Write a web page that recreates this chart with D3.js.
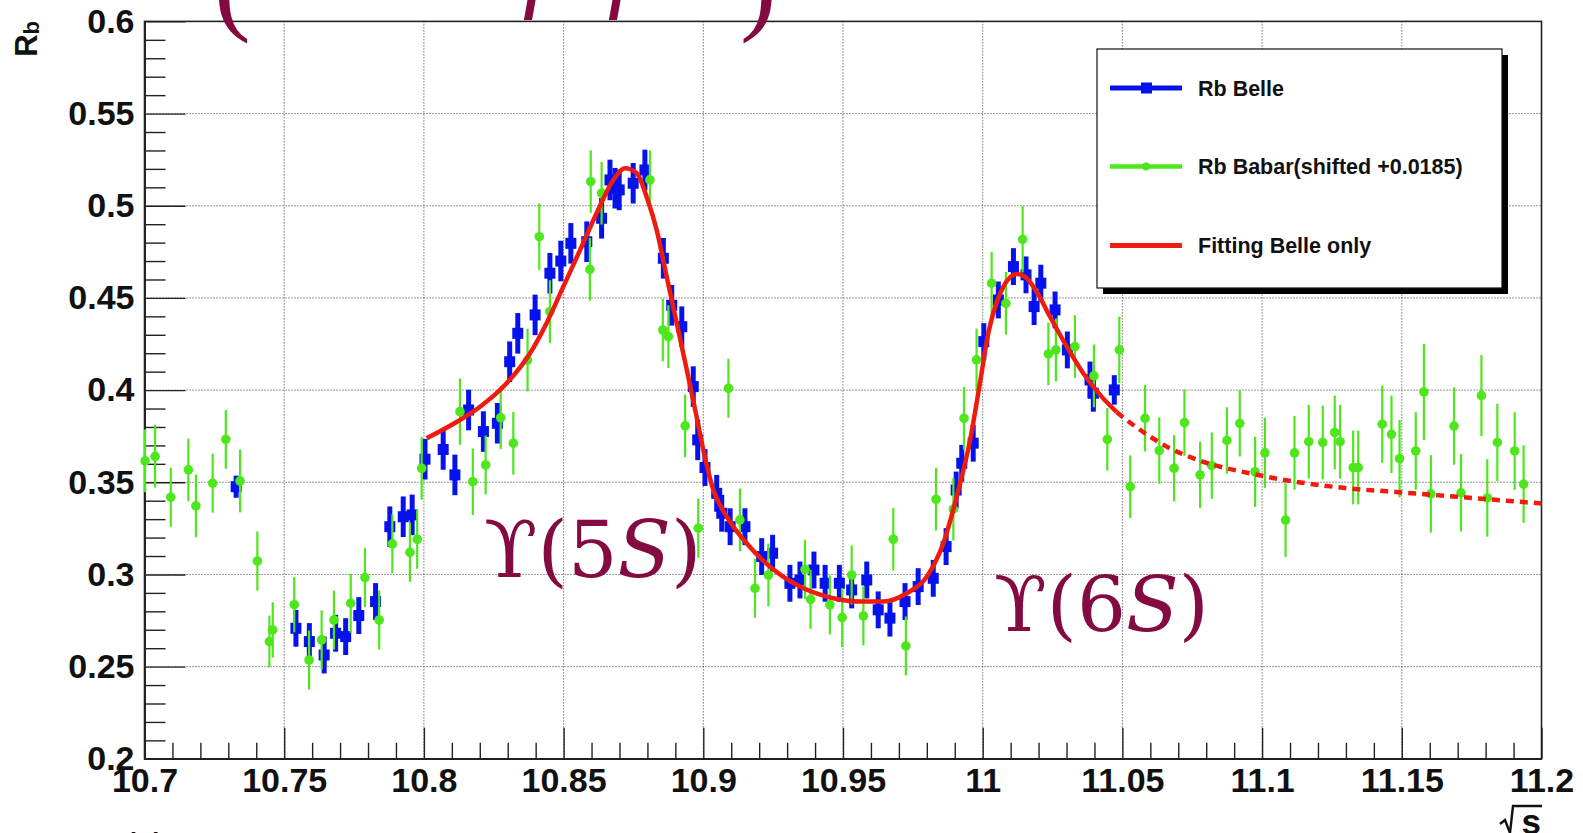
<!DOCTYPE html>
<html>
<head>
<meta charset="utf-8">
<script src="https://cdn.jsdelivr.net/npm/d3@7"></script>
<style>
  html, body { margin: 0; padding: 0; background: #fff; }
  svg { display: block; }
</style>
</head>
<body>
<svg id="chart" width="1583" height="833"></svg>
<script>
// ---- data -------------------------------------------------------------
// Belle R_b scan (sqrt(s) in GeV)
const belleE = [10.7328, 10.7542, 10.7590, 10.7643, 10.7684, 10.7720, 10.7767, 10.7827,
  10.7878, 10.7926, 10.7958, 10.8004, 10.8069, 10.8111, 10.8160, 10.8213, 10.8263,
  10.8307, 10.8336, 10.8398, 10.8451, 10.8490, 10.8526, 10.8583, 10.8636, 10.8666,
  10.8684, 10.8699, 10.8749, 10.8791, 10.8857, 10.8887, 10.8923, 10.8964, 10.8980,
  10.9006, 10.9048, 10.9066, 10.9096, 10.9149, 10.9209, 10.9248, 10.9310, 10.9346,
  10.9396, 10.9436, 10.9487, 10.9531, 10.9585, 10.9626, 10.9668, 10.9722, 10.9769,
  10.9823, 10.9869, 10.9905, 10.9925, 10.9966, 11.0004, 11.0056, 11.0110, 11.0155,
  11.0184, 11.0208, 11.0259, 11.0303, 11.0384, 11.0396, 11.0471];
const belleR = [0.3476, 0.2708, 0.2636, 0.2563, 0.2681, 0.2663, 0.2777, 0.2853,
  0.3259, 0.3313, 0.3323, 0.3625, 0.3678, 0.3540, 0.3892, 0.3775, 0.3820,
  0.4154, 0.4308, 0.4408, 0.4634, 0.4700, 0.4796, 0.4805, 0.4932, 0.5140,
  0.5095, 0.5086, 0.5122, 0.5194, 0.4715, 0.4460, 0.4344, 0.4019, 0.3730,
  0.3580, 0.3440, 0.3332, 0.3259, 0.3259, 0.3097, 0.3115, 0.2952, 0.2970,
  0.3024, 0.2952, 0.2952, 0.2916, 0.2970, 0.2808, 0.2763, 0.2853, 0.2934,
  0.2979, 0.3151, 0.3458, 0.3603, 0.3712, 0.4263, 0.4489, 0.4670, 0.4625,
  0.4453, 0.4580, 0.4435, 0.4218, 0.4055, 0.3983, 0.4001];
const belleErr = [0.006, 0.010, 0.010, 0.010, 0.010, 0.010, 0.010, 0.010,
  0.011, 0.011, 0.011, 0.011, 0.011, 0.011, 0.011, 0.011, 0.011,
  0.011, 0.011, 0.011, 0.011, 0.011, 0.011, 0.011, 0.011, 0.011,
  0.011, 0.011, 0.011, 0.011, 0.011, 0.011, 0.011, 0.011, 0.011,
  0.010, 0.010, 0.010, 0.010, 0.010, 0.010, 0.010, 0.010, 0.010,
  0.010, 0.010, 0.010, 0.010, 0.010, 0.010, 0.010, 0.010, 0.010,
  0.010, 0.010, 0.010, 0.010, 0.010, 0.010, 0.010, 0.010, 0.010,
  0.010, 0.010, 0.010, 0.010, 0.010, 0.010, 0.008];

// BaBar R_b scan, shifted by +0.0185
const babarE = [10.7002, 10.7038, 10.7094, 10.7157, 10.7184, 10.7244, 10.7291, 10.7342,
  10.7404, 10.7447, 10.7459, 10.7536, 10.7589, 10.7634, 10.7678, 10.7738, 10.7789,
  10.7840, 10.7887, 10.7950, 10.7976, 10.7992, 10.8129, 10.8175, 10.8221, 10.8275,
  10.8320, 10.8371, 10.8413, 10.8451, 10.8594, 10.8597, 10.8636, 10.8809, 10.8855,
  10.8875, 10.8935, 10.8982, 10.9090, 10.9131, 10.9185, 10.9233, 10.9364, 10.9384,
  10.9453, 10.9497, 10.9531, 10.9573, 10.9680, 10.9725, 10.9833, 10.9895, 10.9933,
  10.9978, 11.0032, 11.0083, 11.0143, 11.0235, 11.0262, 11.0330, 11.0398, 11.0446,
  11.0489, 11.0528, 11.0581, 11.0632, 11.0685, 11.0722, 11.0778, 11.0820, 11.0874,
  11.0920, 11.0975, 11.1010, 11.1084, 11.1116, 11.1167, 11.1217, 11.1260, 11.1279,
  11.1326, 11.1344, 11.1430, 11.1463, 11.1492, 11.1550, 11.1579, 11.1604, 11.1687,
  11.1712, 11.1785, 11.1806, 11.1842, 11.1904, 11.1936];
const babarR = [0.3616, 0.3641, 0.3419, 0.3567, 0.3372, 0.3495, 0.3733, 0.3507,
  0.3073, 0.2636, 0.2699, 0.2836, 0.2536, 0.2645, 0.2753, 0.2844, 0.2983,
  0.2753, 0.3166, 0.3120, 0.3191, 0.3576, 0.3883, 0.3503, 0.3594, 0.3850,
  0.3712, 0.4163, 0.4832, 0.4426, 0.4655, 0.5131, 0.5068, 0.5140, 0.4326,
  0.4290, 0.3806, 0.3251, 0.4010, 0.3296, 0.2925, 0.2997, 0.3028, 0.2865,
  0.2835, 0.2766, 0.2997, 0.2775, 0.3191, 0.2612, 0.3408, 0.3354, 0.3847,
  0.4164, 0.4580, 0.4471, 0.4818, 0.4196, 0.4218, 0.4236, 0.4077, 0.3733,
  0.4218, 0.3476, 0.3847, 0.3672, 0.3576, 0.3824, 0.3540, 0.3590, 0.3727,
  0.3820, 0.3557, 0.3660, 0.3295, 0.3660, 0.3720, 0.3716, 0.3770, 0.3720,
  0.3580, 0.3580, 0.3815, 0.3760, 0.3628, 0.3670, 0.3990, 0.3437, 0.3805,
  0.3443, 0.3970, 0.3415, 0.3716, 0.3670, 0.3490];
const babarErr = [0.017, 0.017, 0.016, 0.017, 0.017, 0.016, 0.016, 0.017,
  0.016, 0.014, 0.015, 0.015, 0.016, 0.016, 0.016, 0.016, 0.016,
  0.016, 0.016, 0.016, 0.016, 0.017, 0.018, 0.018, 0.016, 0.017,
  0.017, 0.017, 0.018, 0.017, 0.017, 0.017, 0.017, 0.016, 0.017,
  0.017, 0.017, 0.016, 0.016, 0.017, 0.016, 0.017, 0.016, 0.016,
  0.016, 0.016, 0.016, 0.016, 0.017, 0.016, 0.017, 0.017, 0.017,
  0.017, 0.017, 0.017, 0.018, 0.017, 0.017, 0.017, 0.017, 0.017,
  0.018, 0.017, 0.018, 0.018, 0.018, 0.018, 0.018, 0.018, 0.018,
  0.018, 0.019, 0.019, 0.020, 0.020, 0.020, 0.020, 0.020, 0.020,
  0.020, 0.020, 0.021, 0.021, 0.021, 0.021, 0.026, 0.021, 0.021,
  0.021, 0.022, 0.021, 0.021, 0.021, 0.021];

// Fit to Belle data (solid) and its extrapolation (dotted)
const fitE = [10.8010, 10.8129, 10.8201, 10.8296, 10.8380, 10.8439, 10.8499, 10.8559,
  10.8618, 10.8678, 10.8720, 10.8762, 10.8797, 10.8833, 10.8869, 10.8905, 10.8941,
  10.8976, 10.9000, 10.9036, 10.9084, 10.9155, 10.9239, 10.9346, 10.9465, 10.9561,
  10.9644, 10.9728, 10.9800, 10.9859, 10.9907, 10.9955, 10.9990, 11.0020, 11.0038,
  11.0074, 11.0122, 11.0151, 11.0193, 11.0241, 11.0301, 11.0360, 11.0420, 11.0480];
const fitR = [0.3739, 0.3838, 0.3910, 0.4037, 0.4200, 0.4363, 0.4561, 0.4760,
  0.4959, 0.5140, 0.5203, 0.5176, 0.5049, 0.4869, 0.4615, 0.4363, 0.4109,
  0.3856, 0.3675, 0.3458, 0.3314, 0.3169, 0.3042, 0.2934, 0.2871, 0.2853,
  0.2853, 0.2898, 0.2988, 0.3169, 0.3422, 0.3730, 0.4037, 0.4308, 0.4417,
  0.4561, 0.4630, 0.4615, 0.4534, 0.4398, 0.4236, 0.4091, 0.3974, 0.3880];
const tailE = [11.0480, 11.0515, 11.0599, 11.0670, 11.0754, 11.1000, 11.1290, 11.1500, 11.2000];
const tailR = [0.3880, 0.3838, 0.3748, 0.3684, 0.3630, 0.3535, 0.3470, 0.3445, 0.3385];

// axis ticks
const xTicks = [10.7, 10.75, 10.8, 10.85, 10.9, 10.95, 11.0, 11.05, 11.1, 11.15, 11.2];
const xTickLabels = ["10.7", "10.75", "10.8", "10.85", "10.9", "10.95", "11", "11.05", "11.1", "11.15", "11.2"];
const yTicks = [0.2, 0.25, 0.3, 0.35, 0.4, 0.45, 0.5, 0.55, 0.6];
const yTickLabels = ["0.2", "0.25", "0.3", "0.35", "0.4", "0.45", "0.5", "0.55", "0.6"];

const legendLabels = ["Rb Belle", "Rb Babar(shifted +0.0185)", "Fitting Belle only"];

// ---- styling ----------------------------------------------------------
const BLUE = "#0512ec";
const GREEN = "#4ee61c";
const RED = "#ee1c0e";
const MAROON = "#840a42";
const SANS = "'Liberation Sans', Arial, Helvetica, sans-serif";
const SERIF = "'DejaVu Serif', 'Liberation Serif', serif";
const THIN_SERIF = "'Liberation Serif', 'DejaVu Serif', serif";

const svg = d3.select("#chart");
svg.append("rect").attr("width", 1583).attr("height", 833).attr("fill", "#fff");

const plot = { left: 144.5, right: 1541.5, top: 21.4, bottom: 758.8 };
const x = d3.scaleLinear().domain([10.7, 11.2]).range([plot.left, plot.right]);
const y = d3.scaleLinear().domain([0.2, 0.6]).range([plot.bottom, plot.top]);

// grid
const grid = svg.append("g").attr("stroke", "#333").attr("stroke-width", 1)
  .attr("stroke-dasharray", "1,2");
grid.selectAll("line.gx").data(xTicks.slice(1, -1)).join("line")
  .attr("x1", d => x(d)).attr("x2", d => x(d))
  .attr("y1", plot.top).attr("y2", plot.bottom);
grid.selectAll("line.gy").data(yTicks.slice(1, -1)).join("line")
  .attr("y1", d => y(d)).attr("y2", d => y(d))
  .attr("x1", plot.left).attr("x2", plot.right);

// minor tick positions (every 0.01)
const xMinor = d3.range(0, 51).map(i => 10.7 + i * 0.01).filter((d, i) => i % 5 !== 0);
const yMinor = d3.range(0, 41).map(i => 0.2 + i * 0.01).filter((d, i) => i % 5 !== 0);

// y axis (ticks pointing into the frame)
const yAxis = svg.append("g").attr("transform", `translate(${plot.left},0)`)
  .call(d3.axisLeft(y).tickValues(yTicks).tickFormat((d, i) => yTickLabels[i])
    .tickSizeInner(-41).tickSizeOuter(0).tickPadding(10));
svg.append("g").attr("transform", `translate(${plot.left},0)`)
  .call(d3.axisLeft(y).tickValues(yMinor).tickFormat("").tickSizeInner(-21).tickSizeOuter(0));

// x axis (ticks pointing up)
const xAxis = svg.append("g").attr("transform", `translate(0,${plot.bottom})`)
  .call(d3.axisBottom(x).tickValues(xTicks).tickFormat((d, i) => xTickLabels[i])
    .tickSizeInner(-31).tickSizeOuter(0).tickPadding(9));
svg.append("g").attr("transform", `translate(0,${plot.bottom})`)
  .call(d3.axisBottom(x).tickValues(xMinor).tickFormat("").tickSizeInner(-16).tickSizeOuter(0));

svg.selectAll(".tick line").attr("stroke", "#222").attr("stroke-width", 1.4);
svg.selectAll(".domain").attr("stroke", "#222").attr("stroke-width", 1.6);
[yAxis, xAxis].forEach(a => a.selectAll("text")
  .attr("font-family", SANS).attr("font-weight", "bold").attr("font-size", 34).attr("fill", "#111"));

// frame
svg.append("rect").attr("x", plot.left).attr("y", plot.top)
  .attr("width", plot.right - plot.left).attr("height", plot.bottom - plot.top)
  .attr("fill", "none").attr("stroke", "#222").attr("stroke-width", 1.6);

// Belle points: thick vertical error bar + square marker
const belle = belleE.map((e, i) => ({ e, r: belleR[i], s: belleErr[i] }));
const gB = svg.append("g");
gB.selectAll("line").data(belle).join("line")
  .attr("x1", d => x(d.e)).attr("x2", d => x(d.e))
  .attr("y1", d => y(d.r - d.s)).attr("y2", d => y(d.r + d.s))
  .attr("stroke", BLUE).attr("stroke-width", 5);
gB.selectAll("rect").data(belle).join("rect")
  .attr("x", d => x(d.e) - 5.5).attr("y", d => y(d.r) - 5.5)
  .attr("width", 11).attr("height", 11).attr("fill", BLUE);

// BaBar points: thin error bar + round marker
const babar = babarE.map((e, i) => ({ e, r: babarR[i], s: babarErr[i] }));
const gG = svg.append("g");
gG.selectAll("line").data(babar).join("line")
  .attr("x1", d => x(d.e)).attr("x2", d => x(d.e))
  .attr("y1", d => y(d.r - d.s)).attr("y2", d => y(d.r + d.s))
  .attr("stroke", GREEN).attr("stroke-width", 2.2);
gG.selectAll("circle").data(babar).join("circle")
  .attr("cx", d => x(d.e)).attr("cy", d => y(d.r)).attr("r", 4.8).attr("fill", GREEN);

// fit curve
const curve = d3.line().x(d => x(d[0])).y(d => y(d[1])).curve(d3.curveMonotoneX);
svg.append("path").attr("d", curve(fitE.map((e, i) => [e, fitR[i]])))
  .attr("fill", "none").attr("stroke", RED).attr("stroke-width", 4.5).attr("stroke-linejoin", "round");
svg.append("path").attr("d", curve(tailE.map((e, i) => [e, tailR[i]])))
  .attr("fill", "none").attr("stroke", RED).attr("stroke-width", 4.5).attr("stroke-dasharray", "8,6");

// resonance labels
function upsilon(xp, yp, n, size) {
  const t = svg.append("text").attr("x", xp).attr("y", yp)
    .attr("font-family", SERIF).attr("font-size", size).attr("fill", MAROON);
  t.append("tspan").text("\u03D2(" + n);
  t.append("tspan").attr("font-style", "italic").text("S");
  t.append("tspan").text(")");
}
upsilon(484, 577, "5", 78);
upsilon(994, 631, "6", 77);

// legend
const lg = { x: 1097, y: 49, w: 405, h: 239 };
svg.append("rect").attr("x", lg.x + 6).attr("y", lg.y + 6).attr("width", lg.w).attr("height", lg.h).attr("fill", "#000");
svg.append("rect").attr("x", lg.x).attr("y", lg.y).attr("width", lg.w).attr("height", lg.h)
  .attr("fill", "#fff").attr("stroke", "#111").attr("stroke-width", 1.2);
const rowY = [88, 166.5, 245.5];
const sampleX = [1110, 1182];
legendLabels.forEach((lab, i) => {
  const col = [BLUE, GREEN, RED][i];
  svg.append("line").attr("x1", sampleX[0]).attr("x2", sampleX[1]).attr("y1", rowY[i]).attr("y2", rowY[i])
    .attr("stroke", col).attr("stroke-width", i === 1 ? 4.5 : 5);
  if (i === 0) svg.append("rect").attr("x", 1141).attr("y", rowY[i] - 5.5).attr("width", 11).attr("height", 11).attr("fill", col);
  if (i === 1) svg.append("circle").attr("cx", 1146).attr("cy", rowY[i]).attr("r", 4).attr("fill", col);
  svg.append("text").attr("x", 1198).attr("y", rowY[i]).attr("dy", "0.36em")
    .attr("font-family", SANS).attr("font-weight", "bold").attr("font-size", 21.5).attr("fill", "#111").text(lab);
});

// axis titles
const yt = svg.append("text").attr("transform", "translate(37,21) rotate(-90)")
  .attr("text-anchor", "end").attr("font-family", SANS).attr("font-weight", "bold").attr("fill", "#111");
yt.append("tspan").attr("font-size", 31).text("R");
yt.append("tspan").attr("font-size", 22).attr("dy", 2).text("b");

svg.append("path").attr("d", "M1500,824 L1505,820 L1510,833 L1513,806 L1542,806")
  .attr("fill", "none").attr("stroke", "#111").attr("stroke-width", 2.4);
svg.append("text").attr("x", 1541).attr("y", 834).attr("text-anchor", "end")
  .attr("font-family", SANS).attr("font-weight", "bold").attr("font-size", 35).attr("fill", "#111").text("s");

// partly visible formula above the frame
const headFormula = svg.append("g").attr("font-family", THIN_SERIF).attr("fill", MAROON);
headFormula.append("text").attr("x", 214).attr("y", 20).attr("font-size", 110).text("(");
headFormula.append("text").attr("x", 524).attr("y", -1).attr("font-size", 100).attr("font-style", "italic").text("\u03BC\u207A");
headFormula.append("text").attr("x", 609).attr("y", -1).attr("font-size", 100).attr("font-style", "italic").text("\u03BC\u207B");
headFormula.append("text").attr("x", 740).attr("y", 20).attr("font-size", 110).text(")");

// partly visible caption at the bottom edge
svg.append("text").attr("x", 0).attr("y", 862).attr("font-family", SANS).attr("font-size", 40)
  .attr("fill", "#111").text("Data table");
</script>
</body>
</html>
